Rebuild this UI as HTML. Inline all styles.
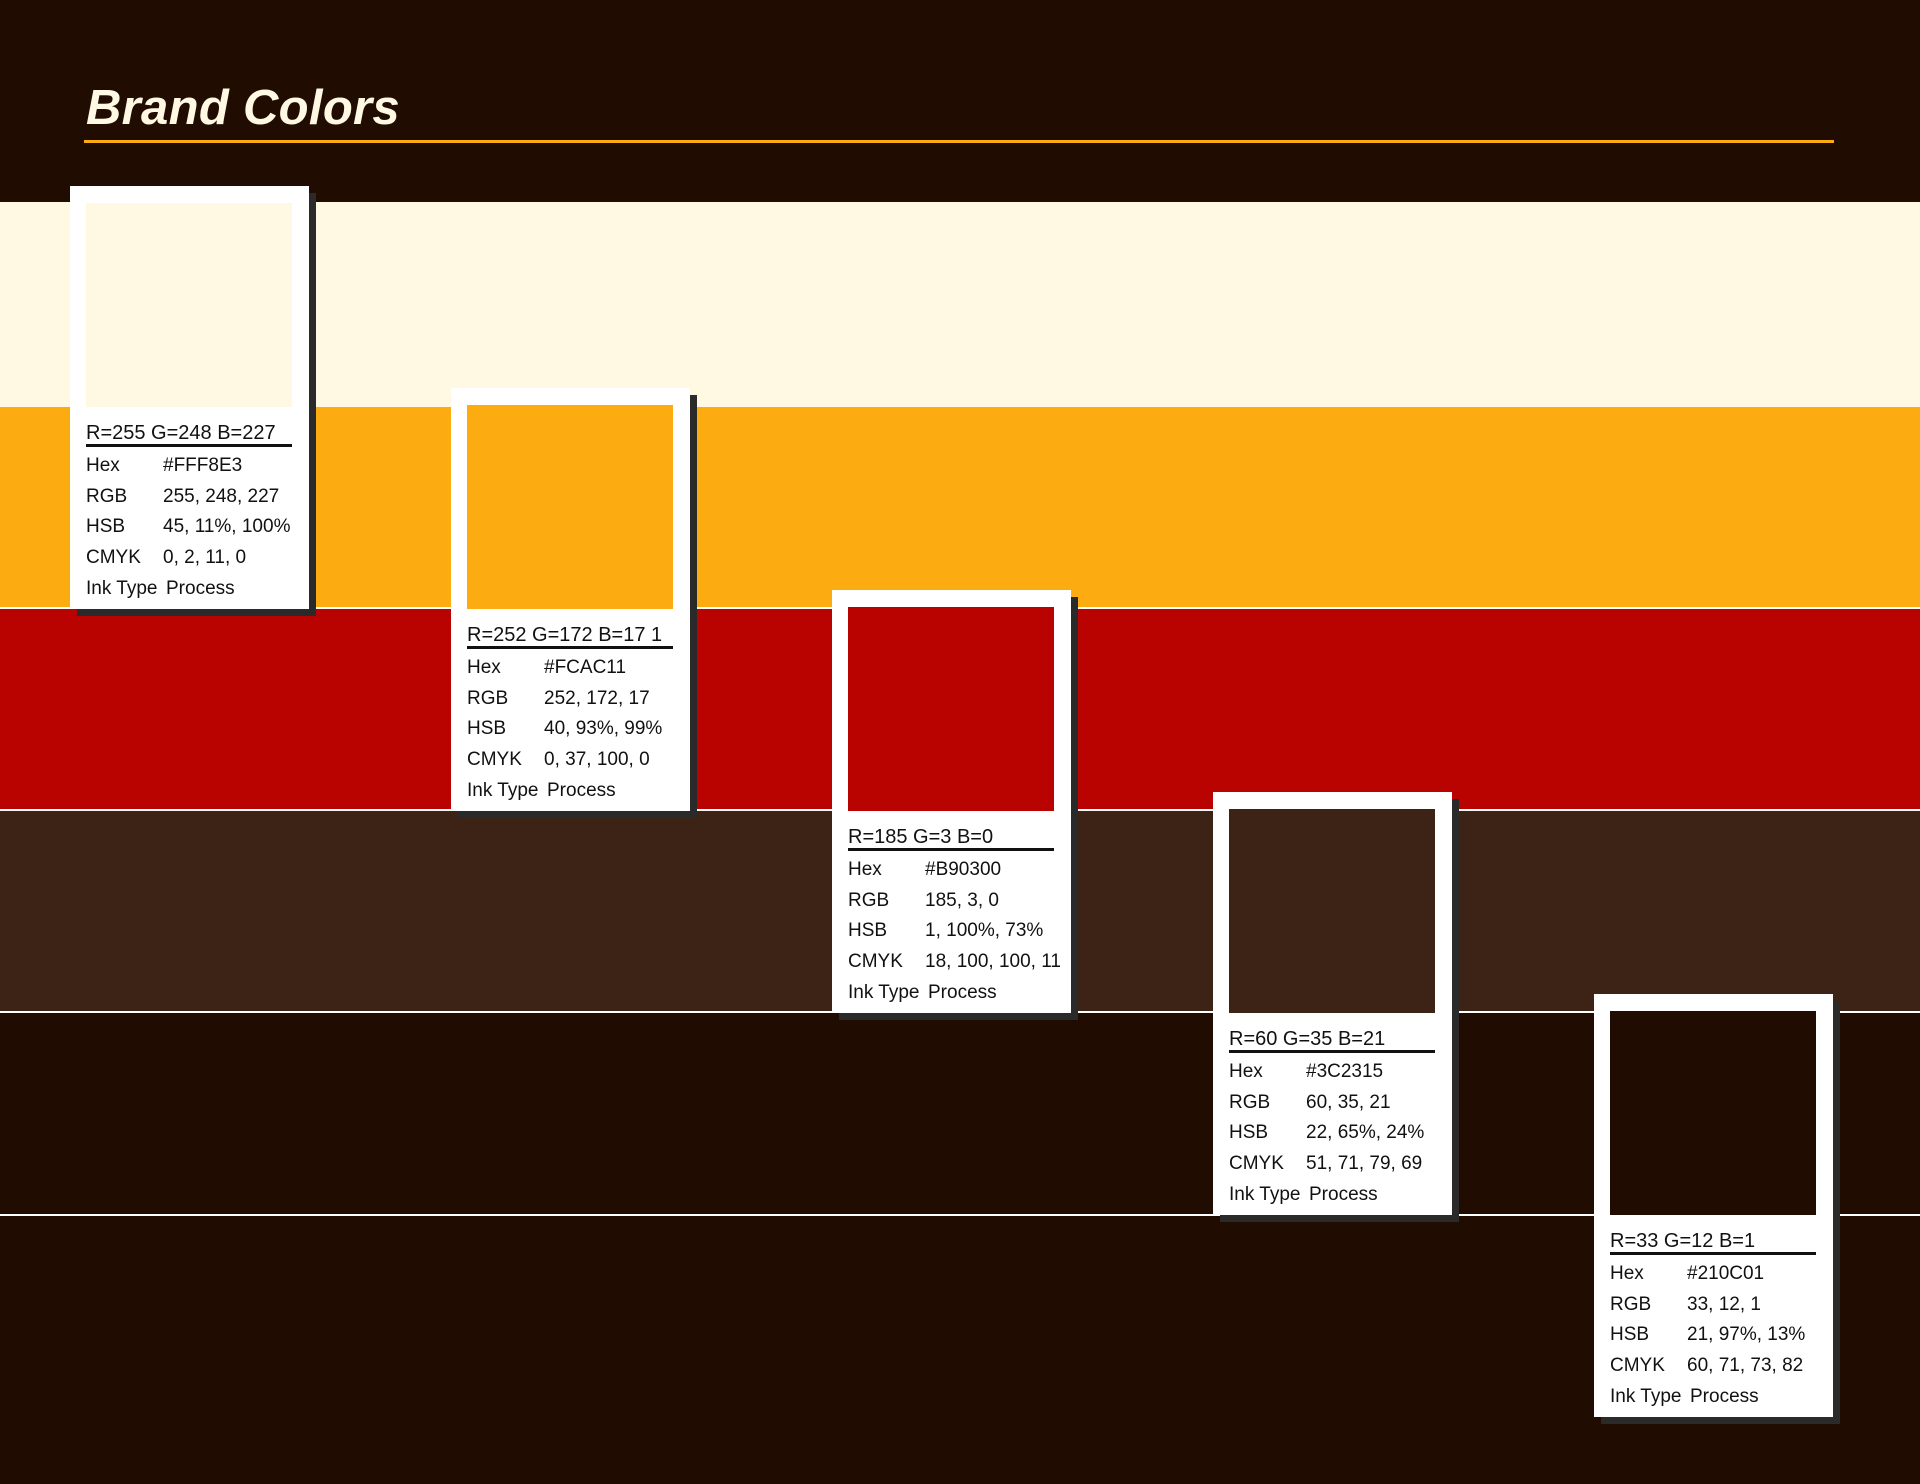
<!DOCTYPE html>
<html><head><meta charset="utf-8"><style>
html,body{margin:0;padding:0}
body{width:1920px;height:1484px;background:#210C01;position:relative;overflow:hidden;font-family:"Liberation Sans",sans-serif}
.band{position:absolute;left:0;width:1920px}
.sep{position:absolute;left:0;width:1920px;height:2px;background:#fff}
.card{position:absolute;width:239px;height:423px;background:#fff;box-shadow:7px 7px 0 #2a2a2a}
.sw{position:absolute;left:16px;top:17px;width:206px;height:204px}
.hdr{position:absolute;left:16px;top:236px;font-size:20px;color:#111;white-space:nowrap}
.ul{position:absolute;left:16px;top:258px;width:206px;height:3px;background:#111}
.row{position:absolute;left:16px;font-size:19px;color:#111;white-space:nowrap;line-height:22px}
.row .v{position:absolute;left:77px}
.row .p{position:absolute;left:80px}
</style></head><body>
<div class="band" style="top:202px;height:205px;background:#FFF8E3"></div>
<div class="band" style="top:407px;height:200px;background:#FCAC11"></div>
<div class="band" style="top:607px;height:202px;background:#B90300"></div>
<div class="band" style="top:809px;height:203px;background:#3C2315"></div>
<div class="sep" style="top:607px"></div>
<div class="sep" style="top:809px"></div>
<div class="sep" style="top:1011px"></div>
<div class="sep" style="top:1214px"></div>
<div style="position:absolute;left:86px;top:80px;font-size:49px;font-weight:bold;font-style:italic;color:#FFF8E3;letter-spacing:0.3px">Brand Colors</div>
<div style="position:absolute;left:84px;top:140px;width:1750px;height:3px;background:#FCAC11"></div>
<div id="cards"></div>
<script>
const swatchColors=["#FFF8E3","#FCAC11","#B90300","#3C2315","#210C01"];
const headers=["R=255 G=248 B=227","R=252 G=172 B=17 1","R=185 G=3 B=0","R=60 G=35 B=21","R=33 G=12 B=1"];
const hexVals=["#FFF8E3","#FCAC11","#B90300","#3C2315","#210C01"];
const rgbVals=["255, 248, 227","252, 172, 17","185, 3, 0","60, 35, 21","33, 12, 1"];
const hsbVals=["45, 11%, 100%","40, 93%, 99%","1, 100%, 73%","22, 65%, 24%","21, 97%, 13%"];
const cmykVals=["0, 2, 11, 0","0, 37, 100, 0","18, 100, 100, 11","51, 71, 79, 69","60, 71, 73, 82"];
const labels=["Hex","RGB","HSB","CMYK","Ink Type"];
const root=document.getElementById('cards');
for(let i=0;i<swatchColors.length;i++){
  const c=document.createElement('div');c.className='card';
  
  
  c.style.left=(70+i*381)+'px';c.style.top=(186+i*202)+'px';
  const s=document.createElement('div');s.className='sw';s.style.background=swatchColors[i];
  
  
  c.appendChild(s);
  const h=document.createElement('div');h.className='hdr';h.textContent=headers[i];
  
  
  c.appendChild(h);
  const u=document.createElement('div');u.className='ul';
  
  
  c.appendChild(u);
  const vals=[hexVals[i],rgbVals[i],hsbVals[i],cmykVals[i],"Process"];
  for(let r=0;r<5;r++){
    const row=document.createElement('div');row.className='row';
    
    
    row.style.top=(269+r*30.7)+'px';
    row.innerHTML=labels[r]+'<span class="'+(r===4?'p':'v')+'">'+vals[r]+'</span>';
    c.appendChild(row);
  }
  root.appendChild(c);
}
</script>
</body></html>
